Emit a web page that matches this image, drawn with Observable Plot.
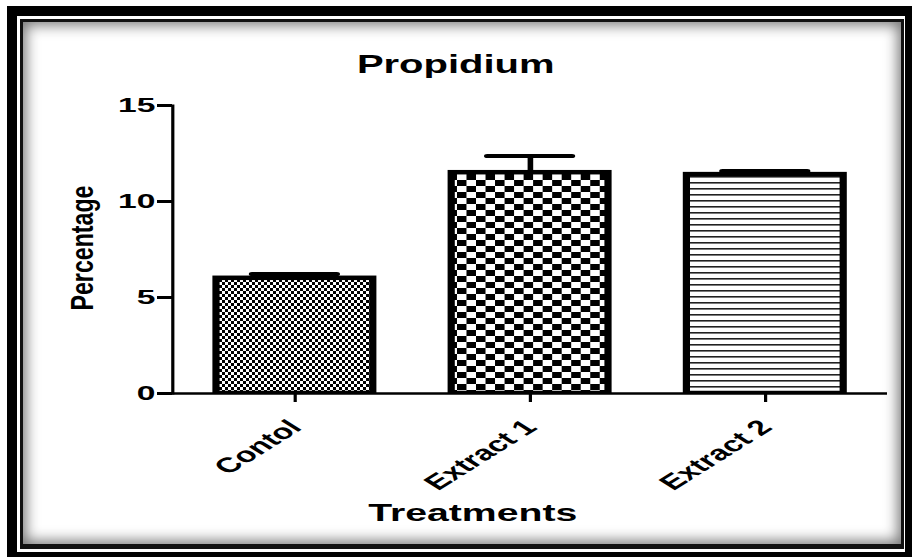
<!DOCTYPE html>
<html>
<head>
<meta charset="utf-8">
<script src="https://cdn.jsdelivr.net/npm/d3@7"></script>
<script src="https://cdn.jsdelivr.net/npm/@observablehq/plot@0.6"></script>
<style>
html, body { margin: 0; padding: 0; background: #fff; }
#wrap { position: relative; width: 912px; height: 557px; overflow: hidden; background: #fff; }
#outer { position: absolute; left: 7px; top: 6px; width: 908px; height: 556px; box-sizing: border-box; border: 10px solid #000; }
#inner { position: absolute; left: 20px; top: 19px; width: 884px; height: 530px; box-sizing: border-box;
         border: 3px solid #111; border-bottom-width: 5px; box-shadow: inset 0 0 14px 3px rgba(0,0,0,0.55); }
#chart { position: absolute; left: 0; top: 0; width: 912px; height: 557px; }
</style>
</head>
<body>
<svg width="0" height="0" style="position:absolute">
  <defs>
    <pattern id="patControl" patternUnits="userSpaceOnUse" width="3.75" height="6">
      <rect width="3.75" height="6" fill="#fff"/>
      <rect width="1.875" height="3" fill="#000"/>
      <rect x="1.875" y="3" width="1.875" height="3" fill="#000"/>
    </pattern>
    <pattern id="patExtract1" patternUnits="userSpaceOnUse" width="11.9" height="12">
      <rect width="11.9" height="12" fill="#fff"/>
      <rect width="5.95" height="6" fill="#000"/>
      <rect x="5.95" y="6" width="5.95" height="6" fill="#000"/>
    </pattern>
    <pattern id="patExtract2" patternUnits="userSpaceOnUse" width="10" height="6">
      <rect width="10" height="6" fill="#fff"/>
      <rect y="2" width="10" height="1.6" fill="#222"/>
    </pattern>
  </defs>
</svg>
<div id="wrap">
  <div id="outer"></div>
  <div id="inner"></div>
  <div id="chart"></div>
</div>
<script>
// ---- data ----
const categories = ["Contol", "Extract 1", "Extract 2"];
const means = [6.0, 11.5, 11.4];
const sems = [0.23, 0.87, 0.19];
const yTicks = [0, 5, 10, 15];
const titleText = "Propidium";
const xLabel = "Treatments";
const yLabel = "Percentage";
const patternFills = ["url(#patControl)", "url(#patExtract1)", "url(#patExtract2)"];

const data = categories.map((c, i) => ({cat: c, mean: means[i], sem: sems[i], top: means[i] + sems[i]}));

// the reference image is stretched horizontally; draw in a narrower space and stretch
const S = 1.6;
const W = 912 / S;

const svg = Plot.plot({
  width: W,
  height: 557,
  marginLeft: 172 / S,
  marginRight: 25 / S,
  marginTop: 105,
  marginBottom: 164,
  style: {background: "transparent", fontFamily: "'Liberation Sans', Arial, sans-serif", color: "#000", overflow: "visible"},
  x: {domain: categories, paddingInner: 0.334, paddingOuter: 0.185},
  y: {domain: [0, 15]},
  color: {type: "ordinal", domain: categories, range: patternFills},
  marks: [
    Plot.barY(data, {x: "cat", y: "mean", fill: "cat", stroke: "#000", strokeWidth: 4.5, clip: true}),
    Plot.ruleX(data, {x: "cat", y1: "mean", y2: "top", stroke: "#000", strokeWidth: 3.5}),
    Plot.tickY(data, {x: "cat", y: "top", stroke: "#000", strokeWidth: 4, insetLeft: 22.5, insetRight: 22.5, strokeLinecap: "round"}),
    Plot.ruleY([0], {stroke: "#000", strokeWidth: 2.5}),
    Plot.frame({anchor: "left", stroke: "#000", strokeWidth: 2}),
    Plot.axisY({ticks: yTicks, tickSize: 15 / S, tickPadding: 1.5, strokeWidth: 3, fontSize: 21, fontWeight: "bold", label: null}),
    Plot.axisX({tickSize: 9, strokeWidth: 2, fill: "none", label: null}),
    Plot.text(categories, {x: d => d, frameAnchor: "bottom", dx: 5, dy: 35, rotate: -45, textAnchor: "end", lineAnchor: "bottom", fontSize: 21, fontWeight: "bold"}),
    Plot.text([titleText], {frameAnchor: "top", dx: -46.6, dy: -33, lineAnchor: "bottom", fontSize: 25, fontWeight: "bold"}),
    Plot.text([xLabel], {frameAnchor: "bottom", dx: -36, dy: 127, lineAnchor: "bottom", fontSize: 24.5, fontWeight: "bold"}),
    Plot.text([yLabel], {frameAnchor: "left", dx: -56.5, dy: 61, rotate: -90, textAnchor: "start", lineAnchor: "middle", fontSize: 20, fontWeight: "bold"})
  ]
});

svg.setAttribute("width", 912);
svg.setAttribute("height", 557);
svg.setAttribute("preserveAspectRatio", "none");
svg.style.width = "912px";
svg.style.height = "557px";
svg.style.maxWidth = "none";

svg.querySelectorAll("text").forEach(t => {
  if (t.textContent === yLabel) {
    t.setAttribute("textLength", 125);
    t.setAttribute("lengthAdjust", "spacingAndGlyphs");
  }
});

document.getElementById("chart").append(svg);
</script>
</body>
</html>
